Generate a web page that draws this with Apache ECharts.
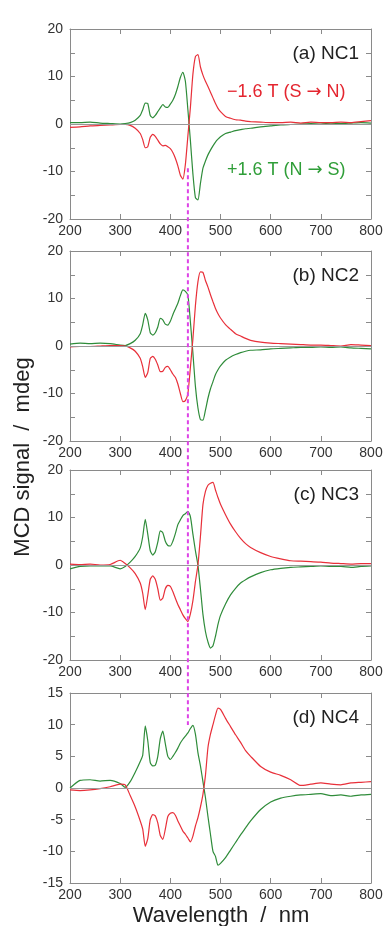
<!DOCTYPE html>
<html>
<head>
<meta charset="utf-8">
<script src="https://cdn.jsdelivr.net/npm/echarts@6/dist/echarts.min.js"></script>
<style>
  html, body { margin: 0; padding: 0; background: #fff; }
  #chart { width: 388px; height: 926px; }
</style>
</head>
<body>
<div id="chart"></div>
<script>
// wavelength grid (nm)
var wl = [200, 220, 240, 260, 280, 300, 310, 320, 330, 340, 345, 350, 355, 360, 365, 370, 375, 380, 385, 390,
          395, 400, 405, 410, 415, 420, 425, 430, 435, 440, 445, 450, 455, 460, 465, 470, 475, 480, 485, 490,
          495, 500, 510, 520, 530, 540, 550, 560, 580, 600, 620, 640, 660, 680, 700, 720, 740, 760, 780, 800];

// (a) NC1
var greenA = [0.3, 0.3, 0.4, 0.2, 0.1, 0.0, 0.1, 0.3, 0.8, 1.8, 3.0, 4.4, 4.3, 1.8, 1.3, 1.8, 2.6, 3.4, 4.1, 3.6,
              3.5, 4.2, 5.0, 6.2, 7.9, 9.8, 10.9, 9.0, 3.0, -3.5, -10.5, -15.5, -16.0, -12.5, -9.3, -7.8, -6.5, -5.5, -4.6, -3.8,
              -3.2, -2.7, -2.0, -1.7, -1.4, -1.2, -1.0, -0.9, -0.6, -0.4, -0.2, -0.1, 0.0, 0.1, 0.0, 0.2, 0.1, 0.2, 0.3, 0.2];
var redA = [-0.7, -0.6, -0.4, -0.3, -0.2, -0.1, -0.1, -0.3, -0.9, -2.0, -3.3, -5.0, -4.8, -2.8, -2.2, -2.6, -3.4, -4.2, -4.6, -4.5,
            -4.8, -5.2, -6.0, -7.2, -8.8, -10.8, -11.6, -8.5, -2.5, 3.5, 10.5, 14.2, 14.6, 12.0, 10.3, 9.0, 7.9, 6.7, 5.5, 4.3,
            3.3, 2.6, 1.6, 1.2, 0.9, 0.8, 0.6, 0.5, 0.4, 0.3, 0.3, 0.4, 0.2, 0.4, 0.3, 0.3, 0.4, 0.3, 0.5, 0.7];

// (b) NC2
var greenB = [0.4, 0.6, 0.5, 0.6, 0.5, 0.2, 0.1, 0.5, 1.2, 2.6, 4.5, 6.9, 5.5, 2.8, 2.3, 2.8, 4.0, 5.8, 5.5, 4.6,
              4.4, 5.2, 6.6, 7.8, 9.0, 10.6, 11.8, 11.5, 10.7, 5.1, -1.5, -8.5, -13.0, -15.5, -15.6, -13.5, -11.0, -9.0, -7.5, -6.0,
              -5.0, -4.2, -3.0, -2.3, -1.8, -1.4, -1.1, -0.9, -0.8, -0.6, -0.5, -0.4, -0.3, -0.3, -0.2, -0.3, -0.2, -0.4, -0.5, -0.6];
var redB = [-0.2, -0.1, -0.1, 0.0, 0.1, 0.1, 0.0, -0.4, -1.1, -2.6, -4.4, -6.6, -5.6, -2.6, -2.2, -2.8, -4.0, -5.4, -5.3, -4.5,
            -4.3, -5.0, -5.9, -6.6, -8.0, -10.0, -11.7, -11.5, -10.0, -4.5, 1.5, 8.5, 13.5, 15.6, 15.5, 13.8, 12.4, 10.8, 9.3, 7.9,
            6.8, 5.9, 4.5, 3.5, 2.6, 2.1, 1.6, 1.2, 0.8, 0.6, 0.5, 0.4, 0.3, 0.2, 0.2, 0.1, 0.0, 0.3, 0.2, 0.1];

// (c) NC3
var greenC = [-0.8, -0.3, -0.2, -0.2, -0.2, -0.8, -0.3, 0.6, 1.8, 3.6, 6.0, 9.6, 6.5, 3.0, 2.1, 2.8, 4.8, 7.2, 6.8, 5.0,
              4.1, 4.0, 5.0, 6.6, 8.5, 9.5, 10.4, 10.8, 11.3, 10.2, 6.5, 3.0, 0.0, -5.0, -10.4, -14.0, -16.2, -17.5, -17.0, -15.0,
              -12.5, -10.6, -8.2, -6.3, -4.9, -3.8, -3.1, -2.5, -1.6, -1.0, -0.7, -0.5, -0.4, -0.3, -0.2, -0.3, -0.3, -0.5, -0.3, -0.2];
var redC = [0.2, 0.1, 0.2, 0.0, 0.1, 1.0, 0.3, -0.6, -1.8, -3.8, -6.0, -9.4, -6.4, -3.0, -2.3, -3.0, -5.0, -7.4, -7.0, -5.0,
            -4.3, -4.5, -5.6, -7.0, -8.3, -9.4, -10.5, -11.3, -11.9, -10.3, -7.5, -3.5, 0.0, 6.0, 12.7, 15.5, 16.8, 17.2, 17.4, 15.8,
            14.2, 12.8, 10.6, 8.6, 7.0, 5.6, 4.5, 3.7, 2.6, 1.8, 1.3, 0.9, 0.8, 0.7, 0.6, 0.4, 0.3, 0.2, 0.3, 0.3];

// (d) NC4
var greenD = [0.0, 1.2, 1.3, 1.1, 1.2, 0.7, 0.1, 1.0, 2.5, 4.2, 5.2, 9.8, 7.5, 4.0, 3.5, 3.6, 5.0, 7.8, 9.0, 7.0,
              5.0, 4.5, 5.0, 5.6, 6.3, 7.1, 7.7, 8.2, 8.7, 9.4, 9.9, 8.5, 5.6, 3.5, 1.0, -1.5, -4.5, -7.3, -10.0, -10.8,
              -12.2, -11.9, -11.0, -9.8, -8.6, -7.4, -6.3, -5.2, -3.4, -2.2, -1.6, -1.3, -1.1, -1.0, -0.9, -1.2, -1.1, -1.3, -1.1, -1.0];
var redD = [-0.3, -0.4, -0.3, -0.1, 0.2, 0.6, 0.5, -1.2, -3.0, -5.2, -6.5, -9.2, -8.0, -5.0, -4.2, -4.4, -5.5, -7.5, -8.1, -6.5,
            -4.5, -4.0, -3.9, -4.3, -5.2, -6.0, -6.8, -7.3, -7.9, -8.5, -7.6, -6.0, -4.7, -3.0, -1.0, 2.0, 6.4, 8.5, 10.0, 11.5,
            12.6, 12.4, 11.0, 9.7, 8.4, 7.2, 5.9, 5.0, 3.4, 2.5, 2.0, 1.3, 0.4, 0.6, 0.8, 0.6, 0.5, 0.8, 0.9, 1.0];

var panelNames = ['(a) NC1', '(b) NC2', '(c) NC3', '(d) NC4'];
var yRanges = [[-20, 20, 10], [-20, 20, 10], [-20, 20, 10], [-15, 15, 5]];
var greens = [greenA, greenB, greenC, greenD];
var reds = [redA, redB, redC, redD];

// dashed marker: wavelength and vertical extent (% of the stacked plot height)
var markerWl = 435;
var markerSpan = [16.3, 81.5];

var tops = [29, 251, 470, 693];
var plotH = 190;
var font = '"Liberation Sans", Arial, sans-serif';
var frameColor = '#8a8a8a';
var redColor = '#e8303a';
var greenColor = '#2f8c3a';

function pairs(ys) {
    return wl.map(function (w, i) { return [w, ys[i]]; });
}

function frameAxis(extra) {
    var a = {
        type: 'value',
        axisLine: { show: true, onZero: false, lineStyle: { color: frameColor } },
        axisTick: { show: true, inside: true, length: 5, lineStyle: { color: frameColor } },
        axisLabel: { show: false },
        splitLine: { show: false }
    };
    for (var k in extra) a[k] = extra[k];
    return a;
}

var grid = [], xAxis = [], yAxis = [], series = [], graphic = [];

for (var i = 0; i < 4; i++) {
    grid.push({ left: 70, right: 17, top: tops[i], height: plotH });
    var r = yRanges[i];
    var minor = { show: r[2] == 10, splitNumber: 2, length: 5, lineStyle: { color: frameColor } };
    // bottom x axis with labels, top x axis ticks only
    xAxis.push(frameAxis({ gridIndex: i, min: 200, max: 800, interval: 100, position: 'bottom',
        axisLabel: { color: '#333', fontSize: 14, fontFamily: font, margin: 5 } }));
    xAxis.push(frameAxis({ gridIndex: i, min: 200, max: 800, interval: 100, position: 'top' }));
    yAxis.push(frameAxis({ gridIndex: i, min: r[0], max: r[1], interval: r[2], position: 'left', minorTick: minor,
        axisLabel: { color: '#333', fontSize: 14, fontFamily: font, margin: 7 } }));
    yAxis.push(frameAxis({ gridIndex: i, min: r[0], max: r[1], interval: r[2], position: 'right', minorTick: minor }));

    series.push({
        type: 'line', xAxisIndex: 2 * i, yAxisIndex: 2 * i, data: pairs(greens[i]),
        showSymbol: false, smooth: 0.2, lineStyle: { color: greenColor, width: 1.2 },
        silent: true, z: 3,
        markLine: {
            silent: true, symbol: 'none', label: { show: false },
            lineStyle: { color: '#999', width: 1, type: 'solid' },
            data: [{ yAxis: 0 }]
        }
    });
    series.push({
        type: 'line', xAxisIndex: 2 * i, yAxisIndex: 2 * i, data: pairs(reds[i]),
        showSymbol: false, smooth: 0.2, lineStyle: { color: redColor, width: 1.2 },
        silent: true, z: 4
    });

    graphic.push({
        type: 'text', x: 359, y: tops[i] + 25,
        style: { text: panelNames[i], font: '19px ' + font, fill: '#222', align: 'right', verticalAlign: 'middle' }
    });
}

// overlay grid for the dashed marker spanning all panels
grid.push({ left: 70, right: 17, top: tops[0], bottom: 926 - (tops[3] + plotH) });
xAxis.push({ type: 'value', gridIndex: 4, min: 200, max: 800, show: false });
yAxis.push({ type: 'value', gridIndex: 4, min: 0, max: 100, inverse: true, show: false });
series.push({
    type: 'line', xAxisIndex: 8, yAxisIndex: 8, silent: true, showSymbol: false, z: 10,
    data: [[markerWl, markerSpan[0]], [markerWl, markerSpan[1]]],
    lineStyle: { color: '#dd44e6', width: 2, type: [4, 3] }
});

function fieldLabel(x, y, txt, color) {
    return {
        type: 'text', x: x, y: y,
        style: {
            text: txt, font: '18px ' + font, fill: color, align: 'left', verticalAlign: 'middle',
            rich: { ar: { fontFamily: '"DejaVu Sans"', fontSize: 18, fill: color } }
        }
    };
}
graphic.push(fieldLabel(227, 92, '\u22121.6 T (S {ar|\u2192} N)', '#e4252f'));
graphic.push(fieldLabel(227, 170, '+1.6 T (N {ar|\u2192} S)', '#2f9e38'));
graphic.push({
    type: 'text', x: 221, y: 916,
    style: { text: 'Wavelength  /  nm', font: '22px ' + font, fill: '#222', align: 'center', verticalAlign: 'middle' }
});
graphic.push({
    type: 'text', x: 23, y: 457, rotation: Math.PI / 2,
    style: { text: 'MCD signal  /  mdeg', font: '22px ' + font, fill: '#222', align: 'center', verticalAlign: 'middle' }
});

var myChart = echarts.init(document.getElementById('chart'));
myChart.setOption({
    animation: false,
    backgroundColor: '#fff',
    grid: grid,
    xAxis: xAxis,
    yAxis: yAxis,
    series: series,
    graphic: graphic
});
</script>
</body>
</html>
